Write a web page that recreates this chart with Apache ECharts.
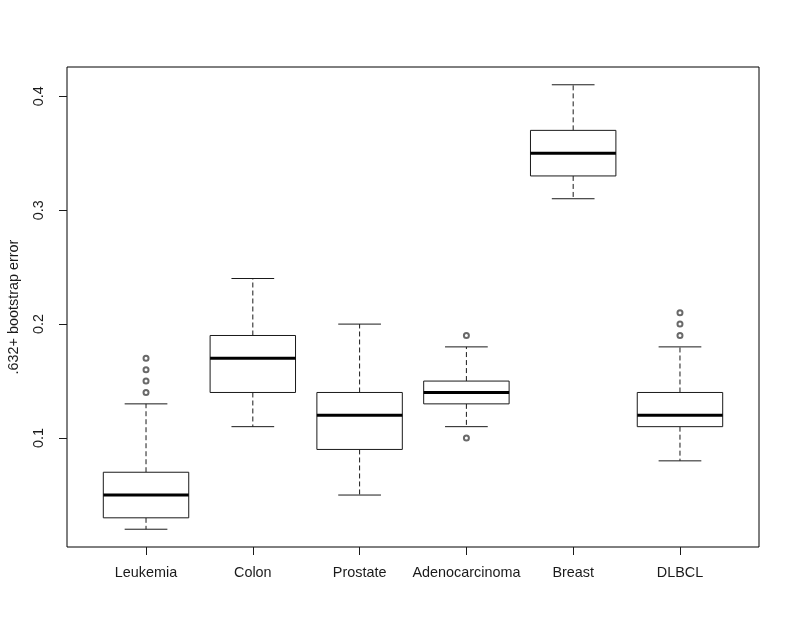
<!DOCTYPE html>
<html>
<head>
<meta charset="utf-8">
<script src="https://cdn.jsdelivr.net/npm/echarts@6/dist/echarts.min.js"></script>
<style>
  html, body { margin: 0; padding: 0; background: #fff; }
  #chart { width: 794px; height: 631px; }
</style>
</head>
<body>
<div id="chart"></div>
<script>
// categories and five-number summaries
const categories = ["Leukemia", "Colon", "Prostate", "Adenocarcinoma", "Breast", "DLBCL"];
const lowerWhisker = [0.02, 0.11, 0.05, 0.11, 0.31, 0.08];
const q1 = [0.03, 0.14, 0.09, 0.13, 0.33, 0.11];
const median = [0.05, 0.17, 0.12, 0.14, 0.35, 0.12];
const q3 = [0.07, 0.19, 0.14, 0.15, 0.37, 0.14];
const upperWhisker = [0.13, 0.24, 0.20, 0.18, 0.41, 0.18];
const outlierValues = [
  [0.14, 0.15, 0.16, 0.17],
  [],
  [],
  [0.10, 0.19],
  [],
  [0.19, 0.20, 0.21]
];
const yTicks = [0.1, 0.2, 0.3, 0.4];
const xTicks = [1, 2, 3, 4, 5, 6];

const boxData = categories.map((c, i) => [i + 1, lowerWhisker[i], q1[i], median[i], q3[i], upperWhisker[i]]);
const outlierData = [];
outlierValues.forEach((vals, i) => vals.forEach(v => outlierData.push([i + 1, v])));

const INK = "#1a1a1a";
const FONT = "Liberation Sans, Arial, sans-serif";

function renderBox(params, api) {
  const x = api.value(0);
  const pLo = api.coord([x, api.value(1)]);
  const pQ1 = api.coord([x, api.value(2)]);
  const pMed = api.coord([x, api.value(3)]);
  const pQ3 = api.coord([x, api.value(4)]);
  const pHi = api.coord([x, api.value(5)]);
  const halfBox = api.size([0.4, 0])[0];
  const halfCap = api.size([0.2, 0])[0];
  const cx = pMed[0];
  const solid = { stroke: INK, lineWidth: 1, fill: null };
  const dashed = { stroke: INK, lineWidth: 1, lineDash: [5, 3], fill: null };
  return {
    type: "group",
    children: [
      // whiskers (dashed)
      { type: "line", shape: { x1: cx, y1: pQ3[1], x2: cx, y2: pHi[1] }, style: dashed },
      { type: "line", shape: { x1: cx, y1: pQ1[1], x2: cx, y2: pLo[1] }, style: dashed },
      // staples
      { type: "line", shape: { x1: cx - halfCap, y1: pHi[1], x2: cx + halfCap, y2: pHi[1] }, style: solid },
      { type: "line", shape: { x1: cx - halfCap, y1: pLo[1], x2: cx + halfCap, y2: pLo[1] }, style: solid },
      // box
      { type: "rect", shape: { x: cx - halfBox, y: pQ3[1], width: halfBox * 2, height: pQ1[1] - pQ3[1] },
        style: { stroke: INK, lineWidth: 1, fill: "#fff" } },
      // median
      { type: "line", shape: { x1: cx - halfBox, y1: pMed[1], x2: cx + halfBox, y2: pMed[1] },
        style: { stroke: "#000", lineWidth: 3 } }
    ]
  };
}

const chart = echarts.init(document.getElementById("chart"), null, { renderer: "canvas" });

chart.setOption({
  animation: false,
  backgroundColor: "#fff",
  grid: {
    left: 67, right: 35, top: 67, bottom: 84,
    outerBoundsMode: "none",
    containLabel: false,
    show: true, borderColor: "#000", borderWidth: 1, backgroundColor: "transparent"
  },
  xAxis: {
    type: "value",
    min: 0.26,
    max: 6.74,
    axisLine: { show: false },
    splitLine: { show: false },
    axisTick: { show: true, customValues: xTicks, length: 8, inside: false, lineStyle: { color: INK } },
    axisLabel: {
      customValues: xTicks,
      formatter: v => categories[Math.round(v) - 1] || "",
      color: INK, fontSize: 14.4, fontFamily: FONT, margin: 19
    }
  },
  yAxis: {
    type: "value",
    min: 0.0044,
    max: 0.4256,
    name: ".632+ bootstrap error",
    nameLocation: "middle",
    nameGap: 46,
    nameTextStyle: { color: INK, fontSize: 14.4, fontFamily: FONT },
    axisLine: { show: false },
    splitLine: { show: false },
    axisTick: { show: true, customValues: yTicks, length: 8, inside: false, lineStyle: { color: INK } },
    axisLabel: {
      customValues: yTicks,
      formatter: v => v.toFixed(1),
      rotate: 90,
      color: INK, fontSize: 14.4, fontFamily: FONT, margin: 21
    }
  },
  series: [
    {
      type: "custom",
      renderItem: renderBox,
      data: boxData,
      encode: { x: 0, y: [1, 2, 3, 4, 5] },
      z: 2
    },
    {
      type: "scatter",
      data: outlierData,
      symbol: "emptyCircle",
      symbolSize: 5,
      itemStyle: { color: "#444", borderWidth: 1 },
      z: 3
    }
  ]
});
</script>
</body>
</html>
